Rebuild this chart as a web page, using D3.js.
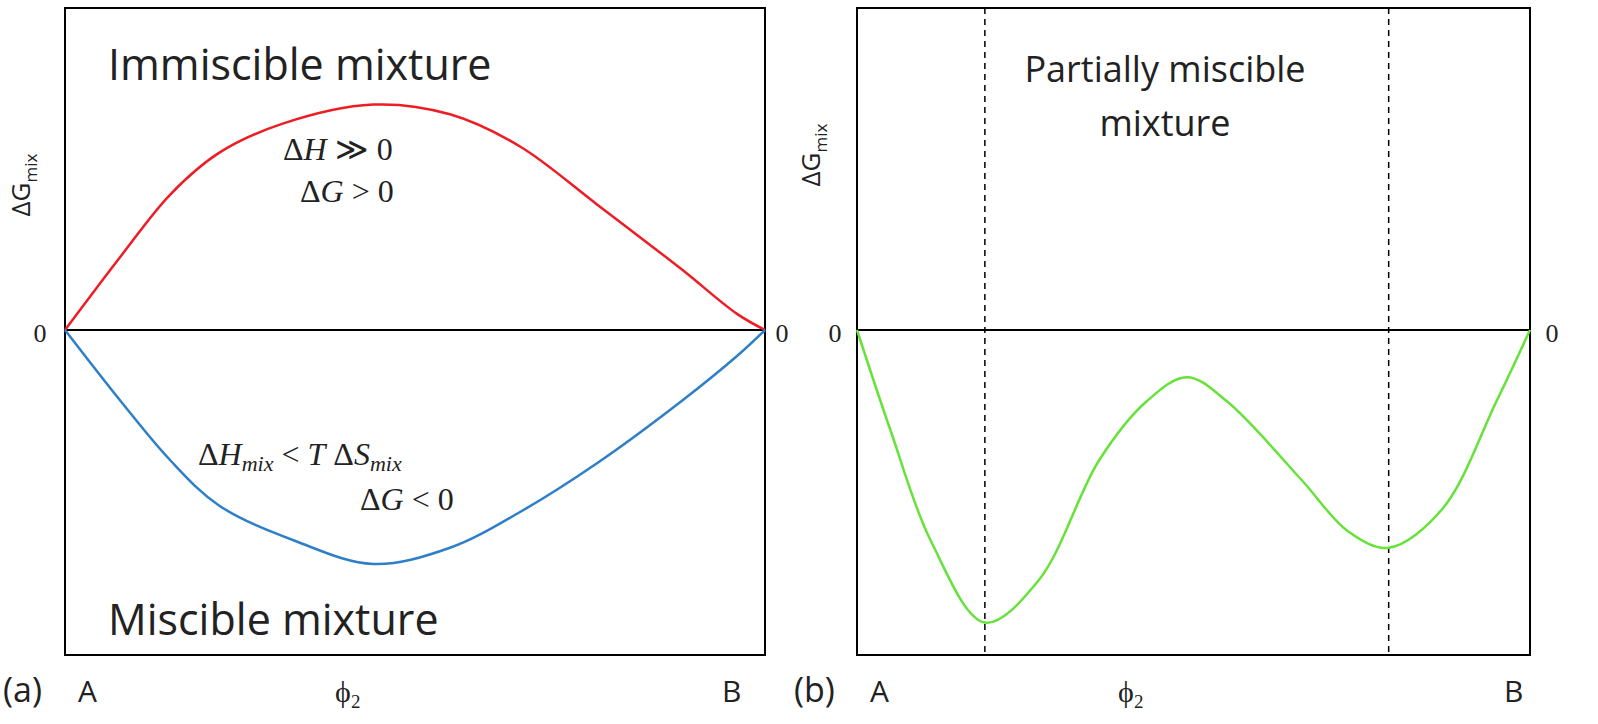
<!DOCTYPE html><html><head><meta charset="utf-8">
<script src="https://cdn.jsdelivr.net/npm/d3@7"></script>
<style>body{margin:0;background:#fff}</style></head><body>
<svg id="c" width="1598" height="724"></svg>
<script>
const redX  =[0,0.08,0.15,0.22,0.31,0.44,0.55,0.65,0.76,0.88,0.96,1];
const redY  =[0,0.23,0.42,0.55,0.64,0.70,0.67,0.57,0.39,0.19,0.05,0];
const blueX =[0,0.08,0.15,0.22,0.33,0.44,0.55,0.65,0.76,0.88,0.96,1];
const blueY =[0,-0.22,-0.40,-0.54,-0.65,-0.72,-0.67,-0.56,-0.41,-0.22,-0.08,0];
const greenX=[0,0.05,0.11,0.19,0.27,0.36,0.43,0.49,0.55,0.66,0.73,0.79,0.87,0.95,1];
const greenY=[0,-0.31,-0.65,-0.90,-0.77,-0.40,-0.22,-0.145,-0.22,-0.46,-0.62,-0.67,-0.55,-0.22,0];
const dashX=[0.19,0.79];
const svg=d3.select("#c");
function panel(x0,x1){
  const top=8,bot=655;
  const x=d3.scaleLinear().domain([0,1]).range([x0,x1]);
  const yy=d3.scaleLinear().domain([-1,0,1]).range([bot,330,top]);
  const g=svg.append("g");
  g.append("rect").attr("x",x0).attr("y",top).attr("width",x1-x0).attr("height",bot-top).attr("fill","none").attr("stroke","#000").attr("stroke-width",2);
  g.append("line").attr("x1",x0).attr("x2",x1).attr("y1",yy(0)).attr("y2",yy(0)).attr("stroke","#000").attr("stroke-width",2);
  return {g,x,y:yy};
}
const a=panel(65,765), b=panel(857,1530);
const line=(p)=>d3.line().x(d=>p.x(d[0])).y(d=>p.y(d[1])).curve(d3.curveCatmullRom.alpha(0.5));
a.g.append("path").attr("d",line(a)(d3.zip(redX,redY))).attr("fill","none").attr("stroke","#ee1c24").attr("stroke-width",2.5);
a.g.append("path").attr("d",line(a)(d3.zip(blueX,blueY))).attr("fill","none").attr("stroke","#2f7fc8").attr("stroke-width",2.5);
b.g.selectAll("line.d").data(dashX).join("line").attr("x1",d=>b.x(d)).attr("x2",d=>b.x(d)).attr("y1",8).attr("y2",655).attr("stroke","#000").attr("stroke-width",1.5).attr("stroke-dasharray","6,5");
b.g.append("path").attr("d",line(b)(d3.zip(greenX,greenY))).attr("fill","none").attr("stroke","#66e23a").attr("stroke-width",2.5);
const T=(t,x,y,s,opt={})=>{const e=svg.append("text").attr("x",x).attr("y",y).attr("font-size",s).attr("font-family",opt.f||"Open Sans, sans-serif").attr("text-anchor",opt.a||"start").attr("fill","#222");e.text(t);return e;};
const serif="Liberation Serif, DejaVu Serif, serif";
T("0",40,342,26,{f:serif,a:"middle"});T("0",782,342,26,{f:serif,a:"middle"});
T("0",835,342,26,{f:serif,a:"middle"});T("0",1552,342,26,{f:serif,a:"middle"});
function dg(x,y){const t=svg.append("text").attr("transform",`translate(${x},${y}) rotate(-90)`).attr("text-anchor","middle").attr("font-family","Open Sans, sans-serif").attr("font-size",26).attr("fill","#222");t.append("tspan").text("ΔG");t.append("tspan").attr("font-size",17).attr("dy",7).text("mix");}
dg(30,185);dg(820,155);
T("(a)",3,702,34);T("A",78,702,30);T("ϕ",335,702,30,{f:serif});T("2",351,708,19,{f:serif});T("B",722,702,30);
T("(b)",794,702,34);T("A",870,702,30);T("ϕ",1118,702,30,{f:serif});T("2",1134,708,19,{f:serif});T("B",1504,702,30);
T("Immiscible mixture",108,80,43);T("Miscible mixture",108,635,43);
T("Partially miscible",1165,82,36,{a:"middle"});T("mixture",1165,136,36,{a:"middle"});
function mt(parts,x,y){const t=svg.append("text").attr("x",x).attr("y",y).attr("font-family",serif).attr("font-size",32).attr("fill","#222");parts.forEach(p=>{const s=t.append("tspan").text(p[0]);if(p[1])s.attr("font-style","italic");});}
mt([["Δ"],["H",1],[" ≫ 0"]],283,160);
mt([["Δ"],["G",1],[" > 0"]],300,202);
const t1=svg.append("text").attr("x",198).attr("y",465).attr("font-family",serif).attr("font-size",32).attr("fill","#222");
t1.append("tspan").text("Δ");t1.append("tspan").attr("font-style","italic").text("H");
t1.append("tspan").attr("font-style","italic").attr("font-size",22).attr("dy",6).text("mix");
t1.append("tspan").attr("dy",-6).text(" < ");t1.append("tspan").attr("font-style","italic").text("T");
t1.append("tspan").text(" Δ");t1.append("tspan").attr("font-style","italic").text("S");
t1.append("tspan").attr("font-style","italic").attr("font-size",22).attr("dy",6).text("mix");
mt([["Δ"],["G",1],[" < 0"]],360,510);
</script></body></html>
